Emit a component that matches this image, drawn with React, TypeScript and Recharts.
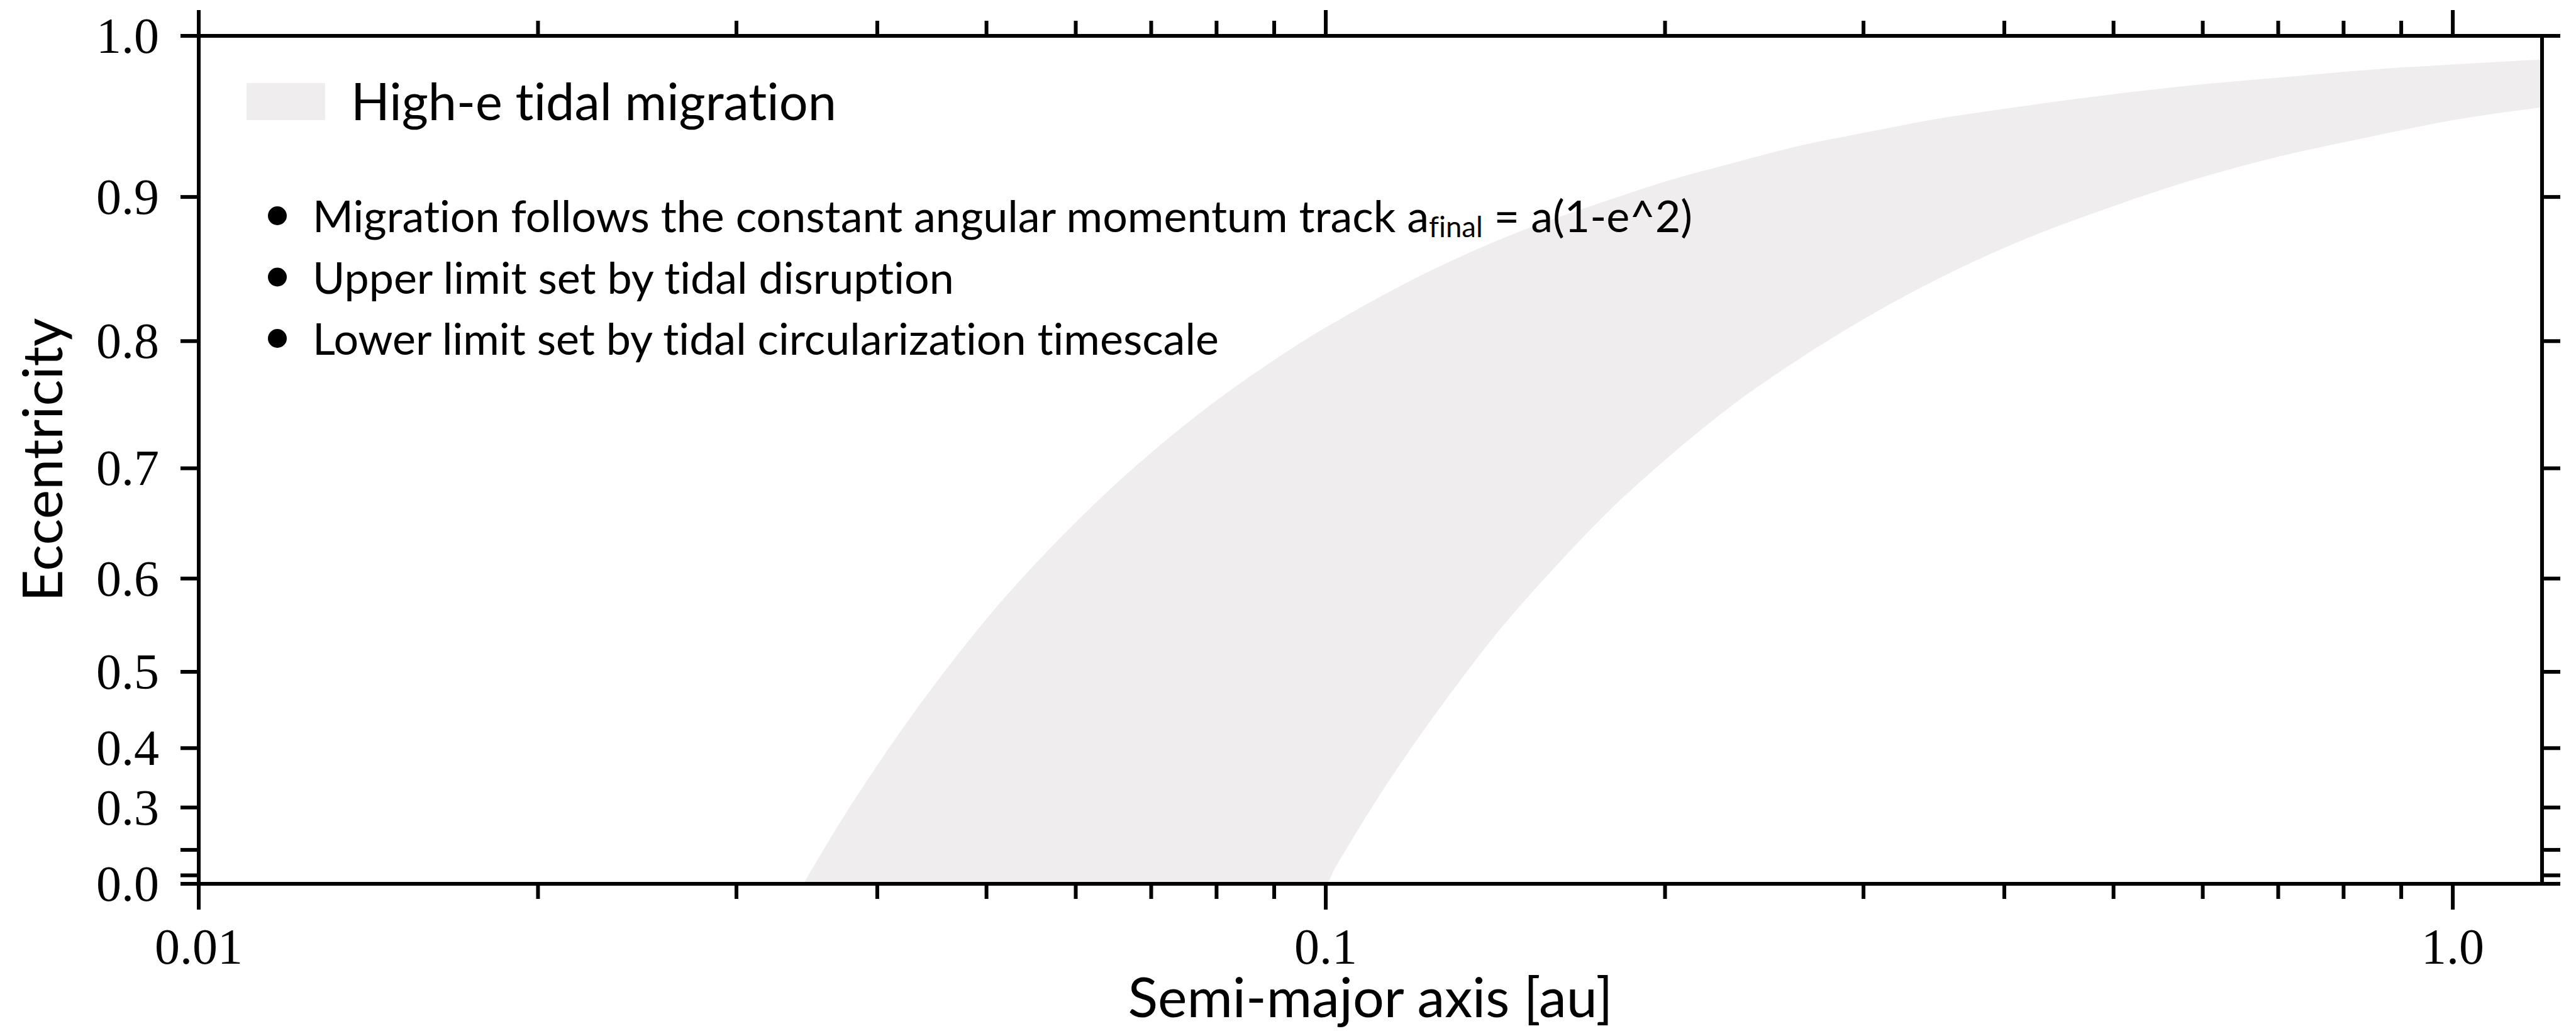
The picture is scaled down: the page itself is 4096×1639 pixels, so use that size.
import React from 'react';
import { ComposedChart, Area, XAxis, YAxis } from 'recharts';

// semi-major axis samples [au] along the band
const semiMajorAxis = [
  0.0344, 0.036, 0.038, 0.04, 0.043, 0.046, 0.05, 0.055, 0.06, 0.065, 0.07, 0.08,
  0.09, 0.1, 0.102, 0.105, 0.11, 0.12, 0.13, 0.14, 0.16, 0.18, 0.2, 0.23, 0.26,
  0.3, 0.35, 0.4, 0.5, 0.6, 0.7, 0.85, 1.0, 1.2,
];
// upper edge of the band (tidal disruption limit)
const eccUpper = [
  0, 0.211, 0.308, 0.374, 0.447, 0.502, 0.559, 0.612, 0.653, 0.686, 0.713, 0.755,
  0.786, 0.81, 0.814, 0.82, 0.829, 0.845, 0.858, 0.869, 0.886, 0.899, 0.91, 0.922, 0.932,
  0.941, 0.95, 0.956, 0.965, 0.971, 0.975, 0.98, 0.983, 0.986,
];
// lower edge of the band (circularization limit)
const eccLower = [
  0, 0, 0, 0, 0, 0, 0, 0, 0, 0, 0, 0,
  0, 0, 0.14, 0.218, 0.302, 0.408, 0.48, 0.535, 0.612, 0.667, 0.707, 0.752, 0.784,
  0.816, 0.845, 0.866, 0.894, 0.913, 0.926, 0.939, 0.949, 0.957,
];

const xTickValues = [
  0.01, 0.02, 0.03, 0.04, 0.05, 0.06, 0.07, 0.08, 0.09,
  0.1, 0.2, 0.3, 0.4, 0.5, 0.6, 0.7, 0.8, 0.9, 1.0,
];
const xTickLabels: Record<string, string> = { '0.01': '0.01', '0.1': '0.1', '1': '1.0' };
const eccTicks = [0, 0.1, 0.2, 0.3, 0.4, 0.5, 0.6, 0.7, 0.8, 0.9, 1.0];
const eccTickLabels = ['0.0', '', '', '0.3', '0.4', '0.5', '0.6', '0.7', '0.8', '0.9', '1.0'];

const legendLabel = 'High-e tidal migration';
const notes = [
  ['Migration follows the constant angular momentum track a', 'final', ' = a(1-e^2)'],
  ['Upper limit set by tidal disruption'],
  ['Lower limit set by tidal circularization timescale'],
];

const data = semiMajorAxis.map((a, i) => ({ a, lo: eccLower[i], hi: eccUpper[i] }));

const W = 4096;
const H = 1639;
// axes get 1px boxes, so margins are one less than the plot edges
const M = { top: 56, right: 53, bottom: 233, left: 315 };
const BAND = '#efedee';
const TEXT_FONT = 'Lato, "Open Sans", sans-serif';
const TICK_FONT = '"Liberation Serif", serif';
const LW = 6;
const noLiga = { fontFeatureSettings: '"liga" 0, "clig" 0, "dlig" 0', fontVariantLigatures: 'none' as const };

function XTick(props: any) {
  const { x, y, payload, side } = props;
  const label = xTickLabels[String(payload.value)];
  const major = label !== undefined;
  const len = major ? 41 : 24;
  const dir = side === 'top' ? -1 : 1;
  return (
    <g>
      <line x1={x} x2={x} y1={y} y2={y + dir * len} stroke="#000" strokeWidth={LW} />
      {side === 'bottom' && major && (
        <text x={x} y={y + 127} textAnchor="middle" fontFamily={TICK_FONT} fontSize={80} fill="#000">
          {label}
        </text>
      )}
    </g>
  );
}

function YTick(props: any) {
  const { x, y, payload, side } = props;
  const e = Math.sqrt(payload.value);
  const idx = eccTicks.findIndex((t) => Math.abs(t - e) < 1e-6);
  const label = idx >= 0 ? eccTickLabels[idx] : '';
  const dir = side === 'right' ? 1 : -1;
  return (
    <g>
      <line x1={x} x2={x + dir * 29} y1={y} y2={y} stroke="#000" strokeWidth={LW} />
      {side === 'left' && label && (
        <text x={x - 63} y={y + 27} textAnchor="end" fontFamily={TICK_FONT} fontSize={80} fill="#000">
          {label}
        </text>
      )}
    </g>
  );
}

function Annotations() {
  const fs = 70;
  return (
    <svg
      width={W}
      height={H}
      style={{ position: 'absolute', left: 0, top: 0, pointerEvents: 'none', ...noLiga }}
    >
      <g fill="#000">
        <rect x={392} y={132} width={125} height={59} fill={BAND} />
        <text x={558} y={191} fontFamily={TEXT_FONT} fontSize={81}>
          {legendLabel}
        </text>
        {notes.map((n, i) => {
          const base = 369 + i * 97.5;
          return (
            <g key={i}>
              <circle cx={441} cy={base - 26} r={15} />
              <text x={497} y={base} fontFamily={TEXT_FONT} fontSize={fs} style={{ whiteSpace: 'pre' }}>
                <tspan>{n[0]}</tspan>
                {n[1] && (
                  <tspan fontSize={fs * 0.65} dy={8}>
                    {n[1]}
                  </tspan>
                )}
                {n[2] && <tspan dy={-8}>{n[2]}</tspan>}
              </text>
            </g>
          );
        })}
        <text x={2179} y={1617} textAnchor="middle" fontFamily={TEXT_FONT} fontSize={88}>
          Semi-major axis [au]
        </text>
        <text
          x={99}
          y={731}
          textAnchor="middle"
          fontFamily={TEXT_FONT}
          fontSize={88}
          transform="rotate(-90 99 731)"
        >
          Eccentricity
        </text>
      </g>
    </svg>
  );
}

export default function App() {
  const axisLine = { stroke: '#000', strokeWidth: LW, strokeLinecap: 'square' as const };
  const eTickPos = eccTicks.map((e) => e * e);
  return (
    <div style={{ position: 'absolute', left: 0, top: 0, width: W, height: H, background: '#fff' }}>
      <ComposedChart width={W} height={H} data={data} margin={M}>
        <Area
          xAxisId="bottom"
          yAxisId="left"
          type="monotone"
          dataKey={(d: any) => [d.lo * d.lo, d.hi * d.hi]}
          fill={BAND}
          fillOpacity={1}
          stroke="none"
          isAnimationActive={false}
        />
        <XAxis
          xAxisId="bottom"
          dataKey="a"
          type="number"
          scale="log"
          domain={[0.01, 1.2]}
          allowDataOverflow
          ticks={xTickValues}
          interval={0}
          height={1}
          tickSize={0}
          tickMargin={0}
          tickLine={false}
          axisLine={axisLine}
          tick={(p: any) => <XTick {...p} side="bottom" />}
        />
        <XAxis
          xAxisId="top"
          orientation="top"
          dataKey="a"
          type="number"
          scale="log"
          domain={[0.01, 1.2]}
          allowDataOverflow
          ticks={xTickValues}
          interval={0}
          height={1}
          tickSize={0}
          tickMargin={0}
          tickLine={false}
          axisLine={axisLine}
          tick={(p: any) => <XTick {...p} side="top" />}
        />
        <YAxis
          yAxisId="left"
          type="number"
          domain={[0, 1]}
          allowDataOverflow
          ticks={eTickPos}
          interval={0}
          width={1}
          tickSize={0}
          tickMargin={0}
          tickLine={false}
          axisLine={axisLine}
          tick={(p: any) => <YTick {...p} side="left" />}
        />
        <YAxis
          yAxisId="right"
          orientation="right"
          type="number"
          domain={[0, 1]}
          allowDataOverflow
          ticks={eTickPos}
          interval={0}
          width={1}
          tickSize={0}
          tickMargin={0}
          tickLine={false}
          axisLine={axisLine}
          tick={(p: any) => <YTick {...p} side="right" />}
        />
      </ComposedChart>
      <Annotations />
    </div>
  );
}
